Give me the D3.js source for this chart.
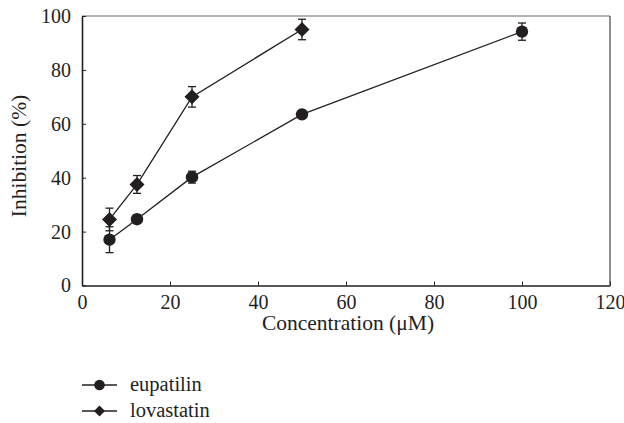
<!DOCTYPE html>
<html>
<head>
<meta charset="utf-8">
<script src="https://cdn.jsdelivr.net/npm/d3@7"></script>
<style>
  body { margin: 0; background: #fff; }
  text { font-family: "Liberation Serif", "DejaVu Serif", serif; fill: #231f20; }
</style>
</head>
<body>
<svg id="chart" width="624" height="423"></svg>
<script>
// data
var conc = [6.25, 12.5, 25, 50, 100];
var eupatilin = [17, 24.6, 40.2, 63.5, 94.2];
var eupatilinErr = [4.8, 1.6, 2.2, 1.4, 3.2];
var lovConc = [6.25, 12.5, 25, 50];
var lovastatin = [24.5, 37.5, 70, 95];
var lovastatinErr = [4.2, 3.3, 3.8, 3.8];
var xTicks = [0, 20, 40, 60, 80, 100, 120];
var yTicks = [0, 20, 40, 60, 80, 100];

var svg = d3.select("#chart");
var mLeft = 82, mRight = 610, mTop = 16, mBottom = 285.5;

var x = d3.scaleLinear().domain([0, 120]).range([mLeft, mRight]);
var y = d3.scaleLinear().domain([0, 100]).range([mBottom, mTop]);

// frame top/right
svg.append("line").attr("x1", mLeft).attr("x2", mRight).attr("y1", mTop).attr("y2", mTop)
  .attr("stroke", "#666").attr("stroke-width", 1);
svg.append("line").attr("x1", mRight).attr("x2", mRight).attr("y1", mTop).attr("y2", mBottom)
  .attr("stroke", "#444").attr("stroke-width", 1.2);

// axes, ticks pointing inward
var xAxis = svg.append("g").attr("transform", "translate(0," + mBottom + ")")
  .call(d3.axisBottom(x).tickValues(xTicks).tickSizeInner(-4).tickSizeOuter(0).tickPadding(9));
var yAxis = svg.append("g").attr("transform", "translate(" + mLeft + ",0)")
  .call(d3.axisLeft(y).tickValues(yTicks).tickSizeInner(-4).tickSizeOuter(0).tickPadding(11));

[xAxis, yAxis].forEach(function(a) {
  a.attr("font-size", 20).attr("font-family", "Liberation Serif");
  a.select(".domain").attr("stroke", "#231f20").attr("stroke-width", 1.6);
  a.selectAll(".tick line").attr("stroke", "#231f20").attr("stroke-width", 1);
  a.selectAll("text").attr("fill", "#231f20");
});

svg.append("text").attr("x", (mLeft + mRight) / 2 + 2).attr("y", 330)
  .attr("text-anchor", "middle").attr("font-size", 21.5).text("Concentration (μM)");
svg.append("text").attr("transform", "translate(26," + 156 + ") rotate(-90)")
  .attr("text-anchor", "middle").attr("font-size", 21.5).text("Inhibition (%)");

var line = d3.line().x(function(d) { return x(d[0]); }).y(function(d) { return y(d[1]); });
var diamond = function(s) { return "M0," + (-s) + "L" + s + ",0L0," + s + "L" + (-s) + ",0Z"; };

function drawSeries(xs, ys, errs, shape) {
  var pts = xs.map(function(v, i) { return [v, ys[i], errs[i]]; });
  svg.append("path").datum(pts).attr("d", line)
    .attr("fill", "none").attr("stroke", "#231f20").attr("stroke-width", 1.3);
  var g = svg.append("g").selectAll("g").data(pts).enter().append("g");
  g.append("line").attr("x1", function(d) { return x(d[0]); }).attr("x2", function(d) { return x(d[0]); })
    .attr("y1", function(d) { return y(d[1] - d[2]); }).attr("y2", function(d) { return y(d[1] + d[2]); })
    .attr("stroke", "#231f20").attr("stroke-width", 1.3);
  [1, -1].forEach(function(sg) {
    g.append("line").attr("x1", function(d) { return x(d[0]) - 4; }).attr("x2", function(d) { return x(d[0]) + 4; })
      .attr("y1", function(d) { return y(d[1] + sg * d[2]); }).attr("y2", function(d) { return y(d[1] + sg * d[2]); })
      .attr("stroke", "#231f20").attr("stroke-width", 1.3);
  });
  if (shape == "circle") {
    g.append("circle").attr("cx", function(d) { return x(d[0]); }).attr("cy", function(d) { return y(d[1]); })
      .attr("r", 6.2).attr("fill", "#231f20");
  } else {
    g.append("path").attr("d", diamond(7.5))
      .attr("transform", function(d) { return "translate(" + x(d[0]) + "," + y(d[1]) + ")"; })
      .attr("fill", "#231f20");
  }
}

drawSeries(conc, eupatilin, eupatilinErr, "circle");
drawSeries(lovConc, lovastatin, lovastatinErr, "diamond");

// legend
var legend = [["eupatilin", "circle"], ["lovastatin", "diamond"]];
var lg = svg.append("g").selectAll("g").data(legend).enter().append("g")
  .attr("transform", function(d, i) { return "translate(0," + (385 + i * 26) + ")"; });
lg.append("line").attr("x1", 82).attr("x2", 117).attr("stroke", "#231f20").attr("stroke-width", 1.3);
lg.each(function(d) {
  var el = d3.select(this);
  if (d[1] == "circle") el.append("circle").attr("cx", 99.5).attr("r", 5.3).attr("fill", "#231f20");
  else el.append("path").attr("d", diamond(5.5)).attr("transform", "translate(99.5,0)").attr("fill", "#231f20");
});
lg.append("text").attr("x", 130).attr("y", 6).attr("font-size", 20.5).text(function(d) { return d[0]; });
</script>
</body>
</html>
